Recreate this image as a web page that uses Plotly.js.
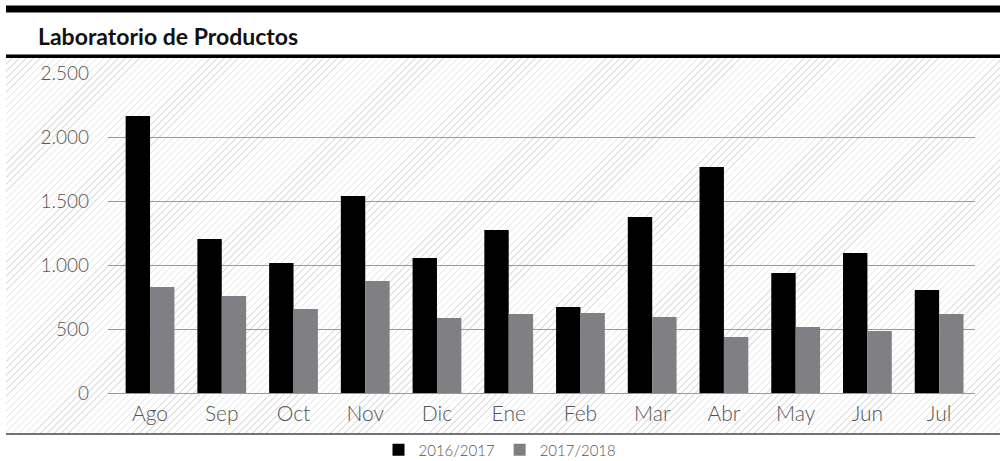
<!DOCTYPE html>
<html>
<head>
<meta charset="utf-8">
<script src="https://cdn.plot.ly/plotly-3.0.1.min.js"></script>
<style>
  html, body { margin: 0; padding: 0; background: #fff; }
  #wrap { position: relative; width: 1000px; height: 461px; }
  #hatch { position: absolute; left: 6px; right: 0; top: 58px; height: 375px;
    background: repeating-linear-gradient(135deg, #ffffff 0px, #ffffff 4px, #e4e4e4 4px, #e4e4e4 5px); }
  #chart { position: absolute; left: 0; top: 0; width: 1000px; height: 461px; }
</style>
</head>
<body>
<div id="wrap">
  <div id="hatch"></div>
  <div id="chart"></div>
</div>
<script>
const months = ['Ago','Sep','Oct','Nov','Dic','Ene','Feb','Mar','Abr','May','Jun','Jul'];
const series1Name = '2016/2017';
const series2Name = '2017/2018';
const series1 = [2165, 1203, 1016, 1539, 1055, 1273, 672, 1375, 1766, 937, 1094, 805];
const series2 = [828, 758, 656, 875, 586, 617, 625, 594, 437, 516, 484, 617];
const yTicks = [0, 500, 1000, 1500, 2000, 2500];

const fontFam = 'Lato, "Open Sans", sans-serif';
const traces = [
  { type: 'bar', x: months, y: series1, name: series1Name, marker: { color: '#000000' } },
  { type: 'bar', x: months, y: series2, name: series2Name, marker: { color: '#808084' } }
];

function py(p) { return (393 - p) / 320; }
function px(p) { return (p - 108) / 867; }

const layout = {
  width: 1000, height: 461,
  margin: { l: 108, r: 25, t: 73, b: 68 },
  paper_bgcolor: 'rgba(0,0,0,0)',
  plot_bgcolor: 'rgba(0,0,0,0)',
  separators: ',.',
  barmode: 'group',
  bargap: 0.32,
  bargroupgap: 0,
  title: { text: '<b>Laboratorio de Productos</b>', xref: 'container', yref: 'container',
    x: 0.038, xanchor: 'left', y: 1 - 37 / 461, yanchor: 'middle',
    font: { family: fontFam, size: 23, color: '#111' } },
  font: { family: fontFam, color: '#555' },
  xaxis: { type: 'category', range: [-0.586, 11.5], showgrid: false, showline: false, zeroline: false,
    ticks: '', ticklabelstandoff: 6, tickfont: { size: 21, color: '#555', family: fontFam, weight: 300 } },
  yaxis: { range: [0, 2500], tickvals: yTicks, tickformat: ',d', showgrid: true,
    gridcolor: '#999999', gridwidth: 1, zeroline: true, zerolinecolor: '#999999', zerolinewidth: 1,
    showline: false, ticks: '', ticklabelstandoff: 18,
    tickfont: { size: 19, color: '#555', family: fontFam, weight: 300 } },
  showlegend: true,
  legend: { orientation: 'h', xref: 'container', yref: 'container', x: 0.5, xanchor: 'center',
    y: 1 - 450 / 461, yanchor: 'middle', font: { size: 15, color: '#555', family: fontFam, weight: 300 },
    itemwidth: 30, traceorder: 'normal', bgcolor: 'rgba(0,0,0,0)' },
  shapes: [
    { type: 'rect', xref: 'paper', yref: 'paper', x0: px(6), x1: px(1000), y0: py(12.5), y1: py(5.5),
      fillcolor: '#000', line: { width: 0 } },
    { type: 'rect', xref: 'paper', yref: 'paper', x0: px(6), x1: px(1000), y0: py(58), y1: py(54.5),
      fillcolor: '#000', line: { width: 0 } },
    { type: 'line', xref: 'paper', yref: 'paper', x0: px(6), x1: px(1000), y0: py(434), y1: py(434),
      line: { color: '#444', width: 1.5 } }
  ]
};

Plotly.newPlot('chart', traces, layout, { displayModeBar: false, staticPlot: true });
</script>
</body>
</html>
